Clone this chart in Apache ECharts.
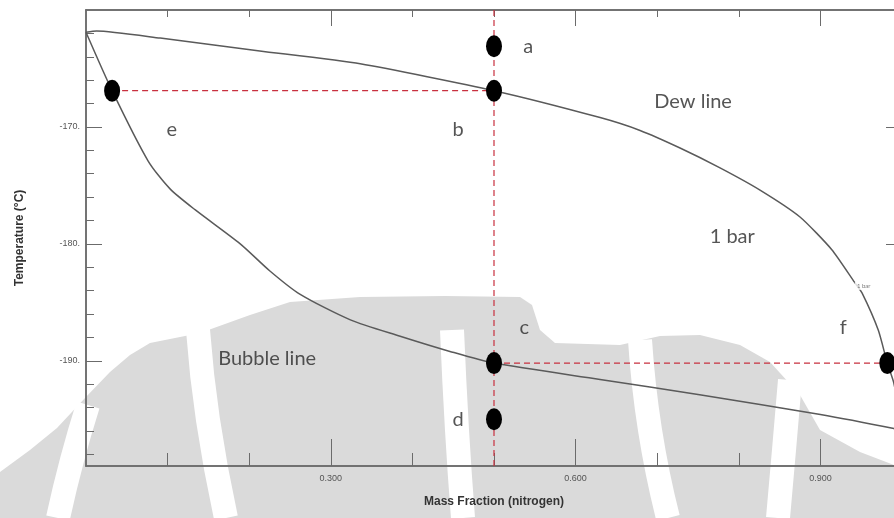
<!DOCTYPE html>
<html>
<head>
<meta charset="utf-8">
<script src="https://cdn.jsdelivr.net/npm/echarts@6/dist/echarts.min.js"></script>
<style>
  html, body { margin: 0; padding: 0; background: #fff; }
  #main { width: 894px; height: 518px; }
</style>
</head>
<body>
<div id="main"></div>
<script>
// phase diagram N2 / O2 at 1 bar: [mass fraction nitrogen, temperature °C]
const dewLine = [[0, -161.9], [0.013, -161.8], [0.091, -162.4], [0.213, -163.5], [0.336, -164.6],
  [0.5, -166.9], [0.63, -169.2], [0.679, -170.3], [0.728, -171.8], [0.777, -173.5], [0.826, -175.4],
  [0.875, -177.7], [0.914, -180.5], [0.942, -183.3], [0.951, -184.2], [0.971, -187.4], [0.982, -190.2],
  [0.99, -191.9], [1.0, -196.0]];
const bubbleLine = [[0, -161.9], [0.032, -166.9], [0.076, -172.9], [0.103, -175.3], [0.134, -177.1],
  [0.189, -180.0], [0.225, -182.3], [0.262, -184.3], [0.324, -186.5], [0.385, -187.9], [0.446, -189.2],
  [0.5, -190.2], [0.63, -191.6], [0.752, -192.9], [0.9, -194.6], [0.99, -195.8], [1.0, -196.0]];

// state points
const pointNames = ['a', 'b', 'c', 'd', 'e', 'f'];
const pointX = [0.5, 0.5, 0.5, 0.5, 0.032, 0.982];
const pointT = [-163.1, -166.9, -190.2, -195.0, -166.9, -190.2];

// red dashed guides
const guideVertical = [[0.5, -160], [0.5, -199]];
const guideUpper = [[0.032, -166.9], [0.5, -166.9]];
const guideLower = [[0.5, -190.2], [0.982, -190.2]];

// text annotations
const noteNames = ['a', 'b', 'c', 'd', 'e', 'f', 'Dew line', '1 bar', 'Bubble line'];
const noteX = [0.542, 0.456, 0.537, 0.456, 0.105, 0.928, 0.744, 0.792, 0.222];
const noteT = [-163.1, -170.2, -187.2, -195.0, -170.2, -187.2, -167.8, -179.4, -189.8];

// axes
const xMinor = [0.1, 0.2, 0.3, 0.4, 0.5, 0.6, 0.7, 0.8, 0.9];
const xMajor = [0.3, 0.6, 0.9];
const yMinor = [-198, -196, -194, -192, -190, -188, -186, -184, -182, -180, -178, -176, -174, -172,
  -170, -168, -166, -164, -162];
const yMajor = [-190, -180, -170];

// faint watermark behind the plot (page decoration, pixels)
const watermarkBase = [[0, 472], [30, 450], [57, 428], [85, 398], [110, 372], [130, 355], [150, 343],
  [200, 333], [250, 315], [290, 302], [360, 297], [445, 296], [520, 297], [532, 305], [540, 330],
  [555, 343], [620, 345], [660, 336], [700, 335], [740, 345], [770, 362], [800, 395], [820, 430],
  [860, 452], [894, 465], [894, 518], [0, 518]];
const watermarkGaps = [
  [[88, 405], [72, 460], [58, 518]],
  [[198, 330], [208, 420], [226, 518]],
  [[452, 330], [457, 430], [463, 518]],
  [[640, 340], [650, 430], [668, 518]],
  [[790, 380], [784, 450], [778, 518]]
];

const chart = echarts.init(document.getElementById('main'));

const axisGray = '#6b6b6b';
const labelStyle = { color: '#555', fontSize: 9, fontFamily: 'Liberation Sans' };

function xAx(pos, ticks, len, extra) {
  return Object.assign({
    type: 'value', position: pos, min: 0, max: 1,
    axisLine: { show: true, onZero: false, lineStyle: { color: axisGray, width: 1.5 } },
    axisTick: { show: true, inside: true, length: len, customValues: ticks, lineStyle: { color: axisGray, width: 1 } },
    axisLabel: { show: false },
    splitLine: { show: false }
  }, extra || {});
}
function yAx(pos, ticks, len, extra) {
  return Object.assign({
    type: 'value', position: pos, min: -199, max: -160,
    axisLine: { show: true, onZero: false, lineStyle: { color: axisGray, width: 1.5 } },
    axisTick: { show: true, inside: true, length: len, customValues: ticks, lineStyle: { color: axisGray, width: 1 } },
    axisLabel: { show: false },
    splitLine: { show: false }
  }, extra || {});
}

const option = {
  backgroundColor: '#fff',
  animation: false,
  // the frame runs a few pixels past the right edge of the picture
  grid: { left: 86, top: 10, width: 816, height: 456, outerBoundsMode: 'none', containLabel: false },
  graphic: [{
    type: 'polygon', silent: true, z: -10,
    shape: { points: watermarkBase },
    style: { fill: '#dadada' }
  }].concat(watermarkGaps.map(pts => ({
    type: 'polyline', silent: true, z: -9,
    shape: { points: pts, smooth: 0.5 },
    style: { stroke: '#fff', lineWidth: 24, fill: null }
  }))),
  xAxis: [
    xAx('bottom', xMinor, 13, {
      name: 'Mass Fraction (nitrogen)', nameLocation: 'middle', nameGap: 30,
      nameTextStyle: { color: '#333', fontSize: 12, fontWeight: 'bold', fontFamily: 'Liberation Sans' },
      axisLabel: Object.assign({ show: true, margin: 8, customValues: xMajor,
        formatter: v => v.toFixed(3) }, labelStyle)
    }),
    xAx('bottom', xMajor, 27),
    xAx('top', xMinor, 7),
    xAx('top', xMajor, 16)
  ],
  yAxis: [
    yAx('left', yMinor, 8, {
      name: 'Temperature (°C)', nameLocation: 'middle', nameGap: 60, nameRotate: 90,
      nameTextStyle: { color: '#333', fontSize: 12, fontWeight: 'bold', fontFamily: 'Liberation Sans' },
      axisLabel: Object.assign({ show: true, margin: 6, customValues: yMajor,
        formatter: v => v + '.' }, labelStyle)
    }),
    yAx('left', yMajor, 16),
    yAx('right', yMinor, 8),
    yAx('right', yMajor, 16)
  ],
  series: [
    {
      name: 'Dew line', type: 'line', data: dewLine, symbol: 'none', smooth: 0.2,
      lineStyle: { color: '#5a5a5a', width: 1.5 }, z: 3
    },
    {
      name: 'Bubble line', type: 'line', data: bubbleLine, symbol: 'none', smooth: 0.25,
      lineStyle: { color: '#5a5a5a', width: 1.5 }, z: 3
    },
    ...[guideVertical, guideUpper, guideLower].map(g => ({
      type: 'line', data: g, symbol: 'none',
      lineStyle: { color: '#c8303f', width: 1.2, type: [6, 4] }, z: 4
    })),
    {
      name: 'points', type: 'scatter', symbol: 'circle', symbolSize: [16, 22],
      itemStyle: { color: '#000', opacity: 1 }, z: 6,
      data: pointNames.map((n, i) => ({ name: n, value: [pointX[i], pointT[i]] }))
    },
    {
      name: 'notes', type: 'scatter', symbolSize: 1, itemStyle: { color: 'rgba(0,0,0,0)' }, z: 7,
      label: {
        show: true, position: 'inside', formatter: p => p.name,
        color: '#2b2b2b', fontSize: 20, fontFamily: 'Lato'
      },
      data: noteNames.map((n, i) => ({ name: n, value: [noteX[i], noteT[i]] }))
        .concat([{ name: '1 bar', value: [0.953, -183.6],
          label: { fontSize: 6, color: '#555', backgroundColor: '#fff', padding: [1, 2] } }])
    }
  ]
};

chart.setOption(option);
</script>
</body>
</html>
